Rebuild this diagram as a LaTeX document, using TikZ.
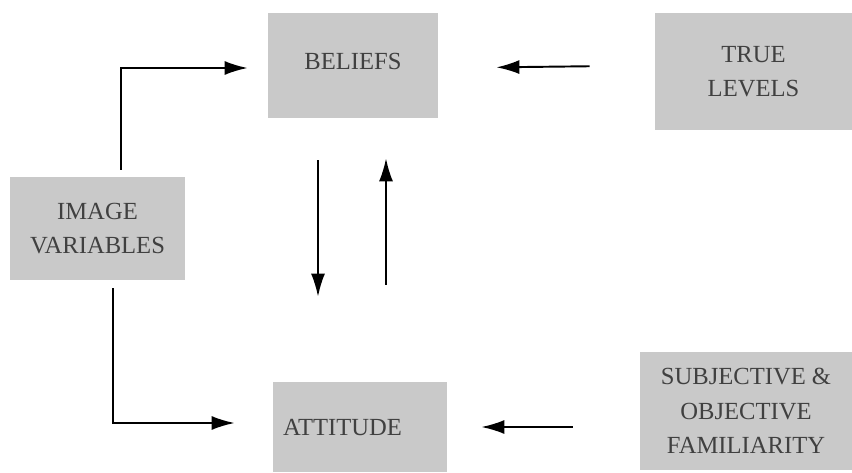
\documentclass[tikz,border=0pt]{standalone}
\usepackage{fontspec}
\setmainfont{Liberation Serif}
\usepackage{tikz}
\usetikzlibrary{arrows.meta, positioning, calc}
\tikzset{
  factor/.style={rectangle, fill=black!21, draw=none, align=center,
                 text=black!75, font=\fontsize{14}{19.5}\selectfont,
                 inner sep=0pt},
  arrow/.style={-{Latex[length=4.6mm, width=2.8mm]}, line width=1.1pt, draw=black},
}

\begin{document}
\begin{tikzpicture}
  \useasboundingbox (0,0) rectangle (17.04,9.44);

  \node[factor, minimum width=3.4cm, minimum height=2.1cm] (beliefs)
    at (7.06,8.13) {\raisebox{0.15cm}{BELIEFS}};
  \node[factor, minimum width=3.94cm, minimum height=2.34cm] (true)
    at (15.07,8.01) {TRUE\\LEVELS};
  \node[factor, minimum width=3.5cm, minimum height=2.06cm] (image)
    at (1.95,4.87) {IMAGE\\VARIABLES};
  \node[factor, minimum width=3.48cm, minimum height=1.8cm] (attitude)
    at (7.2,0.90) {ATTITUDE\hspace{0.7cm}};
  \node[factor, minimum width=4.24cm, minimum height=2.36cm] (famil)
    at (14.92,1.22) {SUBJECTIVE \&\\OBJECTIVE\\FAMILIARITY};

  \draw[arrow, shorten <=0.14cm, shorten >=0.4cm]
    ([xshift=0.47cm]image.north) |- ([yshift=-0.05cm]beliefs.west);
  \draw[arrow, shorten <=1.3cm, shorten >=1.16cm]
    (true.west |- beliefs.east) -- ([yshift=-0.05cm]beliefs.east);
  \draw[arrow, shorten <=0.84cm, shorten >=1.7cm]
    ([xshift=-0.7cm]beliefs.south) -- ([xshift=-0.7cm]beliefs.south |- attitude.north);
  \draw[arrow, shorten <=1.94cm, shorten >=0.8cm]
    ([xshift=0.66cm]beliefs.south |- attitude.north) -- ([xshift=0.66cm]beliefs.south);
  \draw[arrow, shorten <=0.16cm, shorten >=0.76cm]
    ([xshift=0.31cm]image.south) |- ([yshift=0.08cm]attitude.west);
  \draw[arrow, shorten <=1.34cm, shorten >=0.68cm]
    (famil.west |- attitude.east) -- (attitude.east);
\end{tikzpicture}
\end{document}
